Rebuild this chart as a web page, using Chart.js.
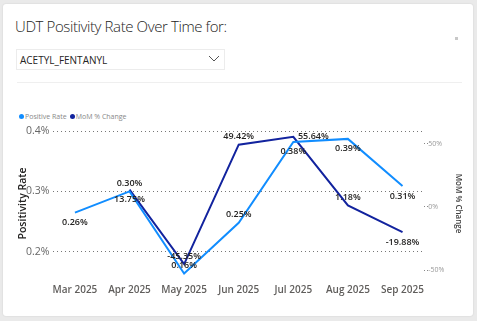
<!DOCTYPE html>
<html>
<head>
<meta charset="utf-8">
<script src="https://cdn.jsdelivr.net/npm/chart.js@4.4.1/dist/chart.umd.min.js"></script>
<style>
  html, body { margin: 0; padding: 0; }
  body { width: 477px; height: 321px; background: #eaeaea; position: relative; overflow: hidden; font-family: "Open Sans", "Noto Sans", sans-serif; }
  .card { position: absolute; left: 3px; top: 4px; width: 470px; height: 312px; background: #fff; border-radius: 3px; box-shadow: 0 0 2px rgba(0,0,0,0.12); }
  .title { position: absolute; left: 15px; top: 16px; font-size: 15px; letter-spacing: -0.4px; font-weight: 300; color: #252423; white-space: nowrap; }
  .dropdown { position: absolute; left: 16px; top: 49px; width: 207px; height: 19px; border: 1px solid #ececec; }
  .dropdown span { position: absolute; left: 3px; top: 3px; font-size: 10px; color: #252423; }
  .dropdown svg { position: absolute; right: 4px; top: 5px; }
  .sep { position: absolute; left: 17px; top: 82px; width: 445px; height: 1px; background: #efefef; }
  .icon { position: absolute; left: 455px; top: 37px; width: 3px; height: 3px; background: #c8c8c8; }
  .legend { position: absolute; left: 19px; top: 112px; font-size: 7px; color: #888; white-space: nowrap; }
  .legend i { display: inline-block; width: 5px; height: 5px; border-radius: 50%; margin-right: 1px; vertical-align: 0px; }
  .legend b { font-weight: 400; margin-right: 3px; }
  canvas { position: absolute; left: 0; top: 102px; }
</style>
</head>
<body>
<div class="card"></div>
<div class="title">UDT Positivity Rate Over Time for:</div>
<div class="dropdown"><span>ACETYL_FENTANYL</span>
  <svg width="12" height="8" viewBox="0 0 12 8"><polyline points="1,1 6,6 11,1" fill="none" stroke="#555" stroke-width="1"/></svg>
</div>
<div class="sep"></div>
<div class="icon"></div>
<div class="legend"><i style="background:#118DFF"></i><b>Positive Rate</b><i style="background:#12239E"></i><b>MoM % Change</b></div>
<canvas id="chart" width="477" height="210"></canvas>
<script>
const months = ['Mar 2025', 'Apr 2025', 'May 2025', 'Jun 2025', 'Jul 2025', 'Aug 2025', 'Sep 2025'];
const positiveRate = [0.265, 0.30, 0.164, 0.248, 0.382, 0.387, 0.309];
const positiveText = ['0.26%', '0.30%', '0.16%', '0.25%', '0.38%', '0.39%', '0.31%'];
const momChange = [null, 13.75, -45.35, 49.42, 55.64, 1.18, -19.88];
const momText = [null, '13.75%', '-45.35%', '49.42%', '55.64%', '1.18%', '-19.88%'];
const leftTicks = [0.2, 0.3, 0.4];
const rightTicks = [-50, 0, 50];

// where each data label sits relative to its point
const positivePlace = ['below', 'above', 'above', 'above', 'below', 'below', 'below'];
const momPlace = [null, 'below', 'above', 'above', 'right', 'above', 'below'];

const labelPlugin = {
  id: 'pointLabels',
  afterDatasetsDraw(chart) {
    const ctx = chart.ctx;
    const sets = [[0, positiveText, positivePlace], [1, momText, momPlace]];
    ctx.save();
    ctx.font = '600 9px "Open Sans", sans-serif';
    ctx.fillStyle = '#252423';
    ctx.textAlign = 'center';
    ctx.textBaseline = 'middle';
    sets.forEach(([idx, texts, places]) => {
      chart.getDatasetMeta(idx).data.forEach((pt, i) => {
        if (!texts[i] || pt.skip) return;
        let x = pt.x, y = pt.y;
        if (places[i] === 'above') y -= 8;
        else if (places[i] === 'below') y += 10;
        else if (places[i] === 'right') { x += 20; }
        ctx.fillText(texts[i], x, y);
      });
    });
    ctx.restore();
  }
};

const toPoints = arr => arr.map((v, i) => ({ x: i, y: v }));

new Chart(document.getElementById('chart').getContext('2d'), {
  type: 'line',
  data: {
    datasets: [{
      label: 'Positive Rate',
      data: toPoints(positiveRate),
      borderColor: '#118DFF',
      backgroundColor: '#118DFF',
      borderWidth: 2,
      pointRadius: 0,
      tension: 0,
      yAxisID: 'y'
    }, {
      label: 'MoM % Change',
      data: toPoints(momChange),
      borderColor: '#12239E',
      backgroundColor: '#12239E',
      borderWidth: 2,
      pointRadius: 0,
      tension: 0,
      yAxisID: 'y1'
    }]
  },
  options: {
    responsive: false,
    animation: false,
    layout: { padding: { left: 20, right: 12, top: 23, bottom: 14 } },
    scales: {
      x: {
        type: 'linear',
        min: -0.41,
        max: 6.4,
        afterBuildTicks: (s) => { s.ticks = months.map((m, i) => ({ value: i })); },
        grid: { display: false, drawTicks: false },
        border: { display: false },
        ticks: { color: '#605E5C', font: { size: 10, weight: '600', family: 'Open Sans' }, padding: 2, maxRotation: 0, autoSkip: false, callback: v => months[v] }
      },
      y: {
        position: 'left',
        min: 0.15,
        max: 0.41,
        afterBuildTicks: (s) => { s.ticks = leftTicks.map(v => ({ value: v })); },
        grid: { color: '#777', borderDash: [1, 3], drawTicks: false, lineWidth: 1 },
        border: { display: false, dash: [1, 3] },
        ticks: { color: '#666', font: { size: 10.5, family: 'Open Sans' }, padding: 3, callback: v => v.toFixed(1) + '%' },
        title: { display: true, text: 'Positivity Rate', color: '#252423', font: { size: 10.5, weight: '600', family: 'Open Sans' }, padding: { top: -3, bottom: -6.5 } }
      },
      y1: {
        position: 'right',
        min: -59.5,
        max: 65,
        afterBuildTicks: (s) => { s.ticks = rightTicks.map(v => ({ value: v })); },
        grid: { drawOnChartArea: false, tickLength: 4, tickBorderDash: [1, 2], tickColor: '#888' },
        border: { display: false },
        ticks: { color: '#999', font: { size: 7, family: 'Open Sans' }, padding: 0, callback: v => v + '%' },
        title: { display: true, text: 'MoM % Change', color: '#444', font: { size: 8, weight: '600', family: 'Open Sans' }, padding: { top: 2, bottom: 9 } }
      }
    },
    plugins: {
      legend: { display: false },
      tooltip: { enabled: false }
    }
  },
  plugins: [labelPlugin]
});
</script>
</body>
</html>
